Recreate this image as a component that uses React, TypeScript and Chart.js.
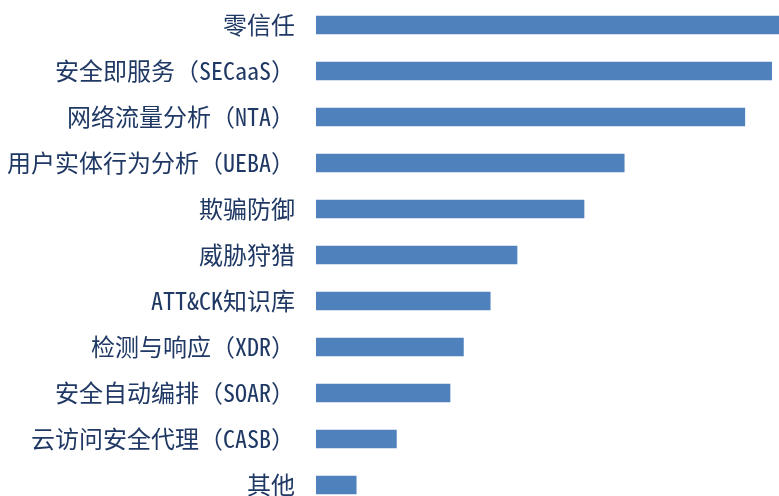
import React, { useEffect, useRef } from "react";
import { Chart, registerables } from "chart.js";

Chart.register(...registerables);

const categories: string[] = [
  "零信任",
  "安全即服务（SECaaS）",
  "网络流量分析（NTA）",
  "用户实体行为分析（UEBA）",
  "欺骗防御",
  "威胁狩猎",
  "ATT&CK知识库",
  "检测与响应（XDR）",
  "安全自动编排（SOAR）",
  "云访问安全代理（CASB）",
  "其他",
];

const values: number[] = [35, 34, 32, 23, 20, 15, 13, 11, 10, 6, 3];

const BAR_COLOR = "#4f81bd";
const LABEL_COLOR = "#1f3864";
const FONT = "'Noto Sans Mono CJK SC', 'Noto Sans CJK SC', 'Noto Sans', sans-serif";

export default function App() {
  const ref = useRef<HTMLCanvasElement | null>(null);

  useEffect(() => {
    document.body.style.margin = "0";
    const canvas = ref.current;
    if (!canvas) return;
    const chart = new Chart(canvas, {
      type: "bar",
      data: {
        labels: categories,
        datasets: [
          {
            data: values,
            backgroundColor: BAR_COLOR,
            borderWidth: 0,
            barThickness: 18,
          },
        ],
      },
      options: {
        indexAxis: "y",
        animation: false,
        responsive: false,
        maintainAspectRatio: false,
        layout: { padding: { top: 2, bottom: 2, left: 0, right: 0 } },
        plugins: {
          legend: { display: false },
          tooltip: { enabled: false },
        },
        scales: {
          x: {
            display: false,
            min: 0,
            max: 34.55,
          },
          y: {
            offset: true,
            grid: { display: false, drawTicks: false },
            border: { display: false },
            ticks: {
              color: LABEL_COLOR,
              padding: 21,
              font: { family: FONT, size: 24 },
              autoSkip: false,
            },
            afterFit: (scale: any) => {
              scale.width = 316;
              scale.paddingTop = 0;
              scale.paddingBottom = 0;
            },
          },
        },
      },
    });
    return () => chart.destroy();
  }, []);

  return (
    <div
      style={{
        position: "relative",
        width: 779,
        height: 496,
        overflow: "hidden",
        background: "#ffffff",
      }}
    >
      <canvas
        ref={ref}
        width={779}
        height={510}
        style={{ position: "absolute", left: 0, top: 0, width: 779, height: 510 }}
      />
    </div>
  );
}
